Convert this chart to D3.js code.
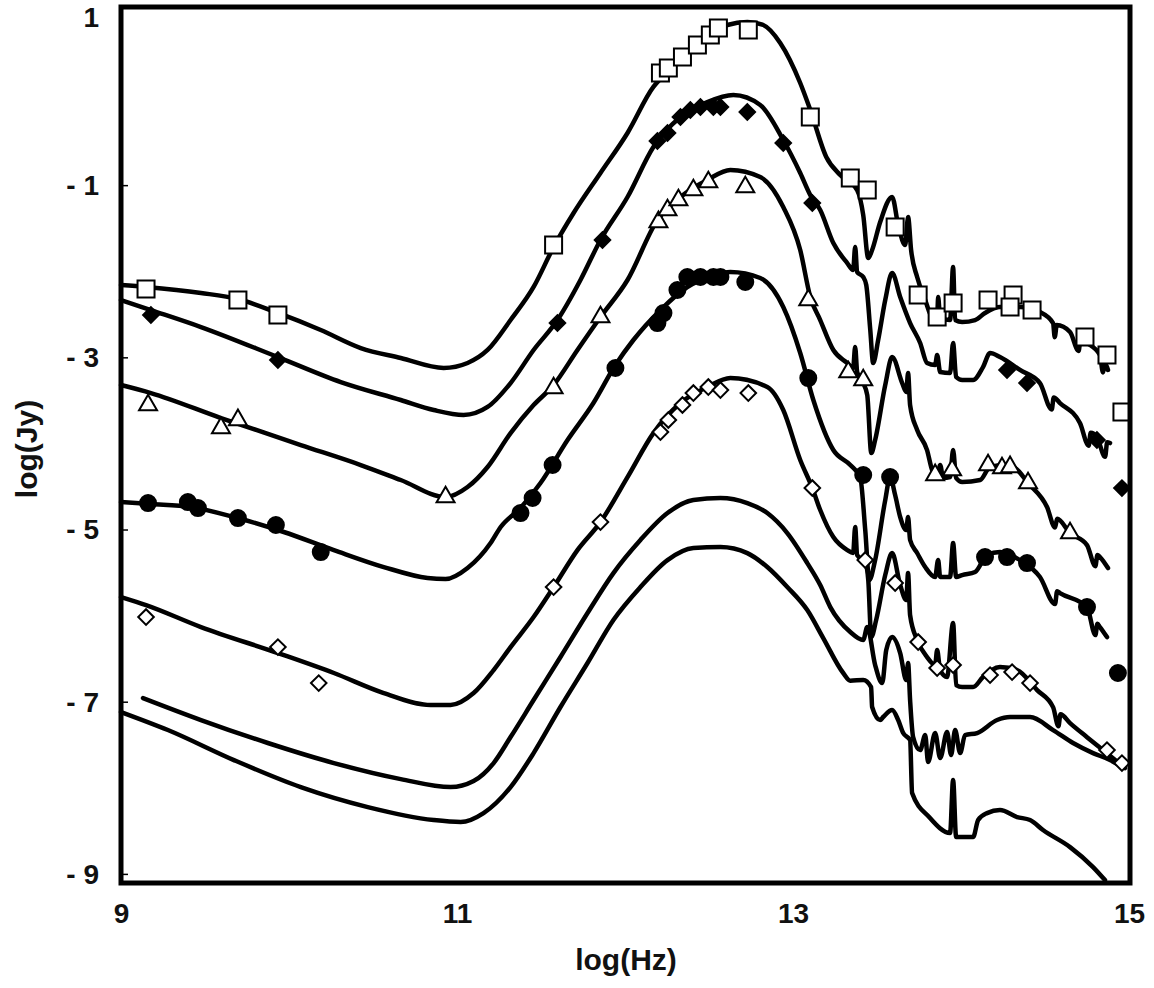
<!DOCTYPE html>
<html><head><meta charset="utf-8">
<script src="https://cdn.jsdelivr.net/npm/d3@7"></script>
<style>body{margin:0;background:#fff}svg{display:block}</style>
</head><body><svg id="c" width="1154" height="988"></svg>
<script>
// ---- tick values ----
const xTicks = [9, 11, 13, 15];
const yTicks = [1, -1, -3, -5, -7, -9];

// ---- model curves [log(Hz), log(Jy)] ----
const model1 = [[9.000,-2.154],[9.149,-2.177],[9.476,-2.247],[9.696,-2.317],[9.934,-2.479],[10.189,-2.677],[10.427,-2.886],[10.665,-3.002],[10.921,-3.118],[11.063,-3.060],[11.182,-2.909],[11.319,-2.561],[11.456,-2.177],[11.575,-1.713],[11.694,-1.318],[11.854,-0.853],[12.015,-0.388],[12.169,0.146],[12.253,0.320],[12.371,0.541],[12.490,0.726],[12.609,0.866],[12.728,0.901],[12.823,0.866],[12.924,0.657],[13.043,0.192],[13.103,-0.121],[13.198,-0.667],[13.281,-0.876],[13.382,-1.051],[13.418,-1.341],[13.448,-1.841],[13.471,-1.748],[13.519,-1.422],[13.590,-1.132],[13.626,-1.457],[13.668,-1.690],[13.685,-1.364],[13.703,-1.748],[13.739,-2.061],[13.787,-2.328],[13.828,-2.526],[13.858,-2.538],[13.864,-2.294],[13.876,-2.538],[13.935,-2.561],[13.953,-1.945],[13.965,-2.561],[14.007,-2.584],[14.084,-2.561],[14.143,-2.479],[14.232,-2.410],[14.351,-2.410],[14.470,-2.468],[14.548,-2.596],[14.558,-2.760],[14.570,-2.620],[14.649,-2.700],[14.700,-2.920],[14.712,-2.780],[14.750,-2.828],[14.827,-2.967],[14.845,-3.170],[14.858,-3.070],[14.875,-3.141]];
const model2 = [[9.000,-2.329],[9.178,-2.445],[9.476,-2.642],[9.934,-2.991],[10.308,-3.281],[10.665,-3.490],[10.861,-3.606],[11.039,-3.664],[11.182,-3.571],[11.319,-3.293],[11.456,-2.909],[11.598,-2.561],[11.735,-2.096],[11.854,-1.631],[12.015,-1.132],[12.169,-0.551],[12.330,-0.203],[12.490,-0.029],[12.645,0.053],[12.805,-0.063],[12.942,-0.470],[13.043,-0.853],[13.103,-1.110],[13.162,-1.283],[13.240,-1.667],[13.323,-1.899],[13.358,-1.980],[13.370,-1.713],[13.382,-2.003],[13.418,-2.061],[13.436,-2.154],[13.460,-2.677],[13.477,-3.060],[13.507,-2.793],[13.549,-2.329],[13.590,-2.015],[13.638,-2.294],[13.697,-2.596],[13.757,-2.828],[13.798,-3.060],[13.846,-3.083],[13.858,-2.967],[13.876,-3.165],[13.935,-3.176],[13.953,-2.828],[13.971,-3.223],[14.007,-3.258],[14.072,-3.258],[14.131,-3.107],[14.173,-2.944],[14.232,-2.991],[14.351,-3.141],[14.470,-3.293],[14.540,-3.600],[14.552,-3.460],[14.589,-3.525],[14.708,-3.758],[14.760,-4.020],[14.772,-3.870],[14.809,-3.920],[14.858,-4.150],[14.870,-3.980],[14.887,-3.990]];
const model3 = [[9.000,-3.316],[9.178,-3.409],[9.595,-3.699],[10.070,-4.013],[10.427,-4.245],[10.665,-4.419],[10.932,-4.617],[11.063,-4.501],[11.182,-4.268],[11.319,-3.874],[11.456,-3.549],[11.575,-3.316],[11.717,-2.909],[11.854,-2.526],[12.015,-2.096],[12.193,-1.399],[12.330,-1.132],[12.490,-0.934],[12.627,-0.818],[12.805,-0.900],[12.942,-1.248],[13.043,-1.748],[13.103,-2.294],[13.162,-2.561],[13.240,-2.909],[13.323,-3.060],[13.358,-3.118],[13.370,-2.874],[13.382,-3.165],[13.418,-3.293],[13.442,-3.432],[13.466,-4.106],[13.489,-3.955],[13.549,-3.316],[13.590,-2.991],[13.650,-3.293],[13.674,-3.397],[13.685,-3.176],[13.697,-3.549],[13.739,-3.839],[13.798,-4.071],[13.828,-4.303],[13.858,-4.385],[13.876,-4.245],[13.894,-4.396],[13.935,-4.385],[13.953,-4.071],[13.971,-4.396],[14.007,-4.443],[14.114,-4.419],[14.173,-4.268],[14.262,-4.245],[14.322,-4.280],[14.399,-4.454],[14.512,-4.733],[14.560,-4.970],[14.572,-4.870],[14.649,-5.035],[14.750,-5.175],[14.800,-5.420],[14.812,-5.290],[14.827,-5.314],[14.875,-5.442]];
const model4 = [[9.000,-4.675],[9.178,-4.698],[9.416,-4.733],[9.672,-4.849],[9.969,-5.023],[10.267,-5.233],[10.564,-5.430],[10.825,-5.558],[10.932,-5.570],[11.063,-5.442],[11.200,-5.151],[11.260,-4.965],[11.378,-4.744],[11.497,-4.454],[11.658,-3.955],[11.812,-3.525],[11.943,-3.084],[12.050,-2.793],[12.211,-2.445],[12.371,-2.177],[12.508,-2.061],[12.627,-2.003],[12.805,-2.073],[12.942,-2.410],[13.043,-2.944],[13.121,-3.490],[13.240,-4.071],[13.341,-4.245],[13.400,-4.385],[13.430,-5.000],[13.454,-5.581],[13.489,-5.349],[13.549,-4.652],[13.578,-4.385],[13.608,-4.594],[13.638,-4.849],[13.674,-5.000],[13.685,-4.849],[13.697,-5.116],[13.739,-5.267],[13.787,-5.430],[13.846,-5.546],[13.864,-5.349],[13.876,-5.546],[13.935,-5.546],[13.953,-5.151],[13.971,-5.546],[14.007,-5.523],[14.084,-5.488],[14.155,-5.291],[14.232,-5.256],[14.351,-5.349],[14.470,-5.546],[14.560,-5.860],[14.572,-5.710],[14.589,-5.732],[14.750,-5.895],[14.800,-6.220],[14.812,-6.090],[14.827,-6.127],[14.869,-6.243]];
const model5 = [[9.000,-5.779],[9.149,-5.872],[9.476,-6.127],[9.934,-6.429],[10.267,-6.661],[10.564,-6.894],[10.843,-7.033],[10.962,-7.033],[11.099,-6.894],[11.218,-6.627],[11.319,-6.360],[11.456,-6.011],[11.575,-5.663],[11.717,-5.233],[11.854,-4.908],[12.015,-4.385],[12.169,-3.874],[12.330,-3.525],[12.490,-3.339],[12.627,-3.235],[12.847,-3.339],[12.942,-3.606],[13.043,-4.187],[13.115,-4.512],[13.162,-4.768],[13.240,-5.082],[13.323,-5.233],[13.358,-5.267],[13.370,-4.965],[13.382,-5.291],[13.430,-5.372],[13.448,-5.581],[13.466,-6.243],[13.495,-6.046],[13.549,-5.523],[13.590,-5.267],[13.638,-5.639],[13.674,-5.813],[13.685,-5.500],[13.697,-5.988],[13.739,-6.278],[13.798,-6.476],[13.846,-6.568],[13.858,-6.394],[13.876,-6.627],[13.917,-6.708],[13.953,-6.081],[13.971,-6.801],[14.007,-6.824],[14.072,-6.824],[14.131,-6.708],[14.232,-6.592],[14.334,-6.627],[14.453,-6.859],[14.548,-7.057],[14.580,-7.280],[14.592,-7.140],[14.649,-7.243],[14.750,-7.406],[14.845,-7.556],[14.976,-7.765]];
const model6 = [[9.131,-6.952],[9.476,-7.207],[9.874,-7.474],[10.267,-7.707],[10.665,-7.893],[10.962,-7.986],[11.099,-7.916],[11.218,-7.707],[11.319,-7.405],[11.456,-6.975],[11.616,-6.475],[11.777,-5.964],[11.931,-5.500],[12.092,-5.116],[12.253,-4.803],[12.407,-4.652],[12.568,-4.629],[12.728,-4.687],[12.847,-4.803],[12.966,-5.035],[13.085,-5.384],[13.162,-5.639],[13.222,-5.895],[13.341,-6.185],[13.418,-6.278],[13.442,-6.127],[13.489,-6.569],[13.531,-6.778],[13.555,-6.394],[13.590,-6.243],[13.638,-6.429],[13.674,-6.743],[13.685,-6.545],[13.697,-6.975],[13.715,-7.405],[13.757,-7.556],[13.787,-7.382],[13.804,-7.695],[13.846,-7.358],[13.876,-7.649],[13.917,-7.347],[13.941,-7.614],[13.965,-7.324],[13.995,-7.591],[14.024,-7.382],[14.096,-7.358],[14.215,-7.207],[14.292,-7.173],[14.411,-7.173],[14.548,-7.324],[14.667,-7.474],[14.786,-7.591],[14.887,-7.672],[14.958,-7.753]];
const model7 = [[9.000,-7.114],[9.279,-7.323],[9.672,-7.672],[10.070,-7.986],[10.469,-8.218],[10.861,-8.369],[11.022,-8.392],[11.158,-8.288],[11.319,-7.986],[11.456,-7.591],[11.616,-7.056],[11.777,-6.545],[11.931,-6.045],[12.092,-5.662],[12.253,-5.349],[12.407,-5.209],[12.568,-5.198],[12.728,-5.268],[12.847,-5.430],[12.966,-5.662],[13.085,-5.930],[13.180,-6.255],[13.299,-6.661],[13.341,-6.750],[13.418,-6.741],[13.465,-6.824],[13.471,-7.056],[13.519,-7.207],[13.537,-7.172],[13.590,-7.091],[13.626,-7.207],[13.656,-7.358],[13.697,-7.440],[13.709,-8.055],[13.810,-8.334],[13.935,-8.520],[13.953,-7.904],[13.971,-8.567],[14.072,-8.567],[14.102,-8.368],[14.155,-8.288],[14.232,-8.253],[14.334,-8.334],[14.411,-8.368],[14.488,-8.485],[14.649,-8.683],[14.786,-8.915],[14.857,-9.066]];

// ---- observed photometry ----
const squares = [[9.149,-2.201],[9.696,-2.329],[9.934,-2.503],[11.575,-1.690],[12.211,0.308],[12.258,0.366],[12.342,0.494],[12.431,0.634],[12.508,0.750],[12.556,0.831],[12.734,0.808],[13.103,-0.203],[13.341,-0.911],[13.442,-1.051],[13.608,-1.481],[13.745,-2.270],[13.858,-2.526],[13.953,-2.363],[14.161,-2.328],[14.310,-2.270],[14.292,-2.410],[14.423,-2.445],[14.738,-2.758],[14.869,-2.967],[14.958,-3.629]];
const filledDiamonds = [[9.178,-2.503],[9.934,-3.025],[11.598,-2.596],[11.866,-1.631],[12.193,-0.482],[12.253,-0.388],[12.330,-0.203],[12.389,-0.121],[12.449,-0.087],[12.526,-0.087],[12.568,-0.087],[12.728,-0.145],[12.942,-0.505],[13.115,-1.202],[14.274,-3.141],[14.393,-3.293],[14.809,-3.955],[14.958,-4.513]];
const triangles = [[9.161,-3.549],[9.595,-3.815],[9.696,-3.722],[10.932,-4.617],[11.575,-3.351],[11.854,-2.526],[12.199,-1.422],[12.253,-1.283],[12.318,-1.167],[12.407,-1.051],[12.496,-0.958],[12.716,-1.016],[13.091,-2.329],[13.329,-3.165],[13.418,-3.258],[13.846,-4.361],[13.947,-4.303],[14.161,-4.245],[14.244,-4.280],[14.292,-4.268],[14.399,-4.454],[14.649,-5.035]];
const circles = [[9.161,-4.687],[9.398,-4.675],[9.458,-4.745],[9.696,-4.861],[9.922,-4.942],[10.189,-5.256],[11.378,-4.803],[11.450,-4.628],[11.569,-4.245],[11.943,-3.118],[12.193,-2.596],[12.229,-2.480],[12.312,-2.212],[12.371,-2.061],[12.449,-2.061],[12.526,-2.061],[12.568,-2.061],[12.716,-2.119],[13.091,-3.235],[13.418,-4.361],[13.578,-4.385],[14.143,-5.314],[14.274,-5.314],[14.393,-5.384],[14.750,-5.895],[14.934,-6.661]];
const openDiamonds = [[9.149,-6.011],[9.934,-6.360],[10.177,-6.778],[11.575,-5.663],[11.854,-4.908],[12.211,-3.862],[12.258,-3.722],[12.342,-3.548],[12.407,-3.409],[12.496,-3.339],[12.568,-3.374],[12.734,-3.409],[13.115,-4.512],[13.430,-5.349],[13.608,-5.616],[13.745,-6.301],[13.858,-6.604],[13.953,-6.569],[14.173,-6.685],[14.304,-6.650],[14.411,-6.778],[14.869,-7.556],[14.958,-7.707]];

const models = [model1, model2, model3, model4, model5, model6, model7];

// ---- drawing ----
const svg = d3.select('#c');
const FONT = '"Liberation Sans", Arial, Helvetica, sans-serif';
const x = d3.scaleLinear().domain([9, 15]).range([121, 1129]);
const y = d3.scaleLinear().domain([-9.1, 1.075]).range([883, 7]);

const line = d3.line().x(d => x(d[0])).y(d => y(d[1])).curve(d3.curveMonotoneX);

svg.append('g').selectAll('path').data(models).join('path')
  .attr('d', line)
  .attr('fill', 'none')
  .attr('stroke', '#000')
  .attr('stroke-width', 4.5)
  .attr('stroke-linejoin', 'round')
  .attr('stroke-linecap', 'round');

function drawSymbols(data, type, size, fill, rotate) {
  svg.append('g').selectAll('path').data(data).join('path')
    .attr('d', d3.symbol().type(type).size(size))
    .attr('transform', d => `translate(${x(d[0])},${y(d[1])})` + (rotate ? ' rotate(45)' : ''))
    .attr('fill', fill)
    .attr('stroke', '#000')
    .attr('stroke-width', 2);
}
drawSymbols(squares, d3.symbolSquare, 289, '#fff', false);
drawSymbols(filledDiamonds, d3.symbolSquare, 121, '#000', true);
drawSymbols(triangles, d3.symbolTriangle, 140, '#fff', false);
drawSymbols(circles, d3.symbolCircle, 200, '#000', false);
drawSymbols(openDiamonds, d3.symbolSquare, 121, '#fff', true);

// axes (labels only; frame drawn separately)
const xAxis = d3.axisBottom(x).tickValues(xTicks).tickSize(0).tickPadding(20).tickFormat(d => String(d));
const yAxis = d3.axisLeft(y).tickValues(yTicks).tickSize(0).tickPadding(22)
  .tickFormat(d => d < 0 ? '- ' + Math.abs(d) : String(d));

const gx = svg.append('g').attr('transform', 'translate(0,883)').call(xAxis);
const gy = svg.append('g').attr('transform', 'translate(121,0)').call(yAxis);
[gx, gy].forEach(g => {
  g.select('.domain').remove();
  g.selectAll('text').attr('font-family', FONT).attr('font-weight', 'bold')
    .attr('font-size', 28).attr('fill', '#111');
});
// top label sits a little lower so it stays inside the page
gy.selectAll('.tick').filter(d => d === 1).select('text').attr('y', 4);

// small inward ticks
svg.append('g').selectAll('line').data(yTicks.slice(1)).join('line')
  .attr('x1', 122).attr('x2', 128)
  .attr('y1', d => y(d)).attr('y2', d => y(d))
  .attr('stroke', '#000').attr('stroke-width', 1.5);

// frame
svg.append('rect')
  .attr('x', x(9)).attr('y', y(1.075))
  .attr('width', x(15) - x(9) + 1).attr('height', y(-9.1) - y(1.075))
  .attr('fill', 'none').attr('stroke', '#000').attr('stroke-width', 5);

// axis titles
svg.append('text').text('log(Hz)')
  .attr('x', 626).attr('y', 970).attr('text-anchor', 'middle')
  .attr('font-family', FONT).attr('font-weight', 'bold').attr('font-size', 30).attr('fill', '#111');
svg.append('text').text('log(Jy)')
  .attr('transform', 'translate(37,449) rotate(-90)').attr('text-anchor', 'middle')
  .attr('font-family', FONT).attr('font-weight', 'bold').attr('font-size', 30).attr('fill', '#111');
</script>
</body></html>
